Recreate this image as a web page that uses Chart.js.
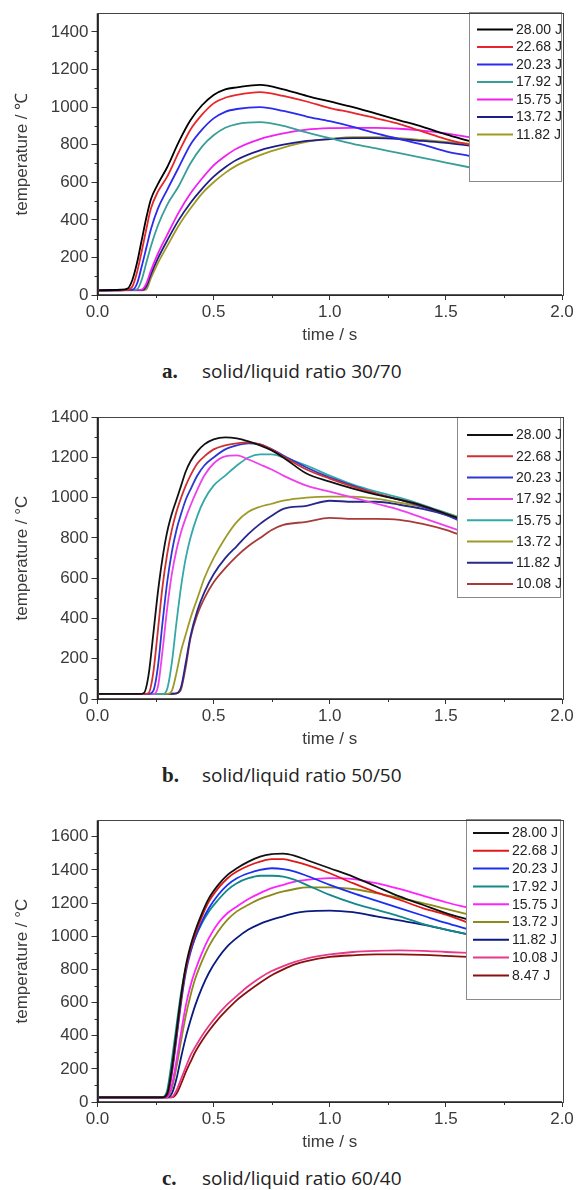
<!DOCTYPE html>
<html><head><meta charset="utf-8">
<script src="https://cdn.jsdelivr.net/npm/chart.js@4.4.1/dist/chart.umd.min.js"></script>
<style>
html,body{margin:0;padding:0;background:#fff;}
#wrap{position:relative;width:578px;height:1190px;overflow:hidden;background:#fff;}
canvas{position:absolute;left:0;}
.cap{position:absolute;left:162px;font-family:'Open Sans',sans-serif;font-size:19px;color:#222;line-height:24px;white-space:nowrap;}
.cap b{font-family:'Liberation Serif',serif;font-size:21px;display:inline-block;width:40px;}
</style></head><body>
<div id="wrap">
<canvas id="ca" width="578" height="350" style="top:0px"></canvas>
<canvas id="cb" width="578" height="350" style="top:404px"></canvas>
<canvas id="cc" width="578" height="350" style="top:807px"></canvas>
<div class="cap" style="top:359px"><b>a.</b>solid/liquid ratio 30/70</div>
<div class="cap" style="top:763px"><b>b.</b>solid/liquid ratio 50/50</div>
<div class="cap" style="top:1166px"><b>c.</b>solid/liquid ratio 60/40</div>
</div>
<script>
// ---------- DATA ----------
const xTickLabels = ['0.0','0.5','1.0','1.5','2.0'];
const yTicksA = ['0','200','400','600','800','1000','1200','1400'];
const yTicksB = ['0','200','400','600','800','1000','1200','1400'];
const yTicksC = ['0','200','400','600','800','1000','1200','1400','1600'];

// Panel a: solid/liquid ratio 30/70
const timeA = [0,0.10,0.13,0.15,0.17,0.19,0.21,0.23,0.26,0.30,0.35,0.40,0.45,0.50,0.55,0.60,0.70,0.80,0.90,1.00,1.10,1.20,1.30,1.40,1.50,1.60];
const labelsA = ['28.00 J','22.68 J','20.23 J','17.92 J','15.75 J','13.72 J','11.82 J'];
const a2800 = [25,28,35,80,170,290,410,510,590,680,815,930,1010,1065,1095,1105,1118,1095,1060,1030,1000,965,930,895,855,820];
const a2268 = [25,27,28,45,120,230,350,460,550,630,760,880,960,1020,1050,1065,1080,1060,1030,995,970,940,910,870,830,800];
const a2023 = [25,26,27,28,60,150,250,350,460,560,680,800,880,940,975,990,1000,980,950,925,895,860,830,800,765,740];
const a1792 = [25,26,27,27,30,80,170,260,370,480,580,700,790,850,890,910,920,900,865,835,805,780,755,730,705,680];
const a1575 = [25,25,26,27,27,28,60,130,220,320,440,540,620,690,740,780,830,860,880,888,890,890,885,875,860,840];
const a1372 = [25,25,26,26,26,26,45,110,195,290,400,490,565,630,680,720,770,800,820,830,835,835,830,820,810,795];
const a1182 = [25,25,25,25,25,25,30,90,170,260,370,460,540,600,650,690,745,785,815,830,840,840,835,825,815,805];

// Panel b: solid/liquid ratio 50/50
const timeB = [0,0.18,0.20,0.22,0.24,0.26,0.28,0.30,0.32,0.34,0.36,0.38,0.40,0.43,0.46,0.50,0.55,0.60,0.65,0.70,0.75,0.80,0.90,1.00,1.10,1.20,1.30,1.40,1.50,1.55];
const labelsB = ['28.00 J','22.68 J','20.23 J','17.92 J','15.75 J','13.72 J','11.82 J','10.08 J'];
const b2800 = [25,25,30,120,320,530,700,830,920,990,1060,1130,1180,1230,1265,1290,1300,1295,1280,1260,1235,1200,1120,1080,1045,1015,990,960,920,900];
const b2268 = [25,25,25,30,130,340,560,720,840,930,1000,1060,1110,1170,1205,1240,1260,1270,1275,1265,1240,1205,1140,1095,1055,1020,990,960,920,900];
const b2023 = [25,25,25,25,40,160,380,580,730,840,920,990,1040,1110,1160,1200,1240,1260,1270,1265,1240,1210,1150,1100,1060,1020,990,955,915,890];
const b1792 = [25,25,25,25,25,60,240,450,620,740,830,900,960,1040,1110,1170,1205,1210,1190,1165,1140,1110,1060,1030,1000,970,940,900,860,840];
const b1575 = [25,25,25,25,25,25,25,50,180,380,560,700,800,910,990,1060,1110,1160,1200,1215,1215,1200,1160,1110,1065,1030,1000,965,925,905];
const b1372 = [25,25,25,25,25,25,25,25,40,130,240,320,400,500,600,700,800,880,930,955,970,985,1000,1005,1005,995,975,955,925,905];
const b1182 = [25,25,25,25,25,25,25,25,26,28,60,180,310,440,530,620,700,760,820,870,910,945,960,985,980,980,965,945,915,895];
const b1008 = [25,25,25,25,25,25,25,25,26,28,50,160,300,420,500,580,650,710,760,800,840,865,880,900,895,895,890,870,840,820];

// Panel c: solid/liquid ratio 60/40
const timeC = [0,0.28,0.30,0.32,0.34,0.36,0.38,0.40,0.42,0.45,0.48,0.52,0.56,0.60,0.65,0.70,0.75,0.80,0.85,0.90,1.00,1.10,1.20,1.30,1.40,1.50,1.60];
const labelsC = ['28.00 J','22.68 J','20.23 J','17.92 J','15.75 J','13.72 J','11.82 J','10.08 J','8.47 J'];
const c2800 = [28,28,50,200,420,640,820,940,1030,1140,1230,1310,1370,1410,1450,1480,1495,1498,1485,1460,1410,1360,1300,1240,1190,1140,1100];
const c2268 = [28,28,40,180,400,620,800,920,1010,1120,1210,1290,1350,1390,1425,1450,1465,1465,1450,1430,1380,1320,1265,1220,1170,1130,1080];
const c2023 = [28,28,40,170,380,600,780,900,990,1090,1170,1250,1310,1350,1380,1400,1410,1405,1390,1365,1310,1260,1215,1170,1125,1080,1040];
const c1792 = [28,30,70,250,460,660,810,910,990,1080,1150,1220,1280,1320,1350,1365,1365,1360,1340,1310,1250,1200,1160,1120,1075,1040,1010];
const c1575 = [28,28,30,100,250,420,580,700,790,900,990,1080,1140,1180,1225,1260,1290,1310,1330,1340,1350,1345,1320,1285,1245,1205,1170];
const c1372 = [28,28,30,80,210,370,520,640,740,850,940,1030,1100,1150,1190,1225,1250,1270,1285,1295,1295,1285,1260,1230,1200,1165,1130];
const c1182 = [28,28,28,50,140,270,390,490,580,690,780,870,940,990,1040,1075,1100,1120,1140,1150,1155,1145,1120,1095,1070,1040,1010];
const c1008 = [28,28,28,30,70,140,210,280,330,400,460,530,590,640,700,750,790,820,845,865,890,905,912,915,912,905,900];
const c847  = [28,28,28,28,50,110,180,240,300,370,430,500,560,615,670,720,765,800,830,850,875,885,890,890,888,882,875];

// ---------- STYLES ----------
const colorsA = ['#000000','#e8262a','#2b2bf0','#3a9e98','#f020f0','#1e1e8a','#a09a20'];
const colorsB = ['#111111','#d03030','#2a38d0','#ee40ee','#34a8a8','#9e9a28','#28288a','#a83a3a'];
const colorsC = ['#111111','#e01818','#1a30f0','#128a8a','#ff22ff','#8c8a18','#0a1a80','#e8388a','#8a1010'];

Chart.defaults.font.family = "'Liberation Sans', Arial, sans-serif";

const frameTicks = {
  id: 'frameTicks',
  afterDraw(chart) {
    const {ctx, chartArea: a, scales: {x, y}} = chart;
    ctx.save();
    ctx.strokeStyle = '#333';
    ctx.lineWidth = 1;
    ctx.beginPath();
    for (let v = 0.25; v < 2; v += 0.5) {
      const px = Math.round(x.getPixelForValue(v)) + 0.5;
      ctx.moveTo(px, a.bottom); ctx.lineTo(px, a.bottom + 3);
    }
    for (let v = 100; v < y.max; v += 200) {
      const py = Math.round(y.getPixelForValue(v)) + 0.5;
      ctx.moveTo(a.left, py); ctx.lineTo(a.left - 3, py);
    }
    ctx.stroke();
    ctx.strokeStyle = '#444';
    ctx.lineWidth = 1;
    ctx.strokeRect(Math.round(a.left) + 0.5, Math.round(a.top) + 0.5, Math.round(a.right - a.left), Math.round(a.bottom - a.top));
    ctx.strokeStyle = '#222';
    ctx.lineWidth = 1.5;
    ctx.beginPath();
    ctx.moveTo(a.left, a.top); ctx.lineTo(a.left, a.bottom); ctx.lineTo(a.right, a.bottom);
    ctx.stroke();
    ctx.restore();
  }
};

const boxLegend = {
  id: 'boxLegend',
  afterDatasetsDraw(chart, args, o) {
    if (!o || !o.box) return;
    const ctx = chart.ctx;
    const [x0, y0, x1, y1] = o.box;
    ctx.save();
    ctx.fillStyle = '#fff';
    ctx.fillRect(x0, y0, x1 - x0, y1 - y0);
    ctx.strokeStyle = '#8a8a8a';
    ctx.lineWidth = 1;
    ctx.strokeRect(x0 + 0.5, y0 + 0.5, x1 - x0 - 1, y1 - y0 - 1);
    ctx.font = "14px 'Liberation Sans', Arial, sans-serif";
    ctx.textBaseline = 'middle';
    ctx.textAlign = 'left';
    chart.data.datasets.forEach((ds, i) => {
      const yy = o.first + i * o.dy;
      ctx.strokeStyle = ds.borderColor;
      ctx.lineWidth = 2;
      ctx.beginPath();
      ctx.moveTo(o.lx0, yy); ctx.lineTo(o.lx1, yy);
      ctx.stroke();
      ctx.fillStyle = '#222';
      ctx.fillText(ds.label, o.tx, yy + 0.5);
    });
    ctx.restore();
  }
};

function makeSeries(times, vals) { return times.map((t, i) => ({x: t, y: vals[i]})); }

function makeChart(id, times, seriesList, labels, colors, yMax, yTickLabels, yTitle, legendOpts) {
  const tickFont = {size: 17};
  return new Chart(document.getElementById(id), {
    type: 'line',
    data: {
      datasets: seriesList.map((s, i) => ({
        label: labels[i],
        data: makeSeries(times, s),
        borderColor: colors[i],
        backgroundColor: colors[i],
        borderWidth: 1.8,
        pointRadius: 0,
        fill: false,
        cubicInterpolationMode: 'monotone'
      }))
    },
    options: {
      responsive: false,
      animation: false,
      devicePixelRatio: 1,
      layout: {padding: {top: 12, right: 16, left: 0, bottom: 0}},
      plugins: {legend: {display: false}, tooltip: {enabled: false}, boxLegend: legendOpts},
      scales: {
        x: {
          type: 'linear', min: 0, max: 2,
          afterFit(s) { s.height = 55; },
          afterBuildTicks(s) { s.ticks = xTickLabels.map(t => ({value: parseFloat(t)})); },
          ticks: {font: tickFont, color: '#3a3a3a', padding: 2, maxRotation: 0,
                  callback: (v) => xTickLabels.find(t => parseFloat(t) === v)},
          grid: {drawOnChartArea: false, drawTicks: true, tickLength: 5, color: '#333'},
          border: {display: false},
          title: {display: true, text: 'time / s', font: {size: 17}, color: '#3a3a3a', padding: {top: 0, bottom: 4}}
        },
        y: {
          type: 'linear', min: 0, max: yMax,
          afterFit(s) { s.width = 97.5; },
          afterBuildTicks(s) { s.ticks = yTickLabels.map(t => ({value: parseFloat(t)})); },
          ticks: {font: tickFont, color: '#3a3a3a', padding: 3,
                  callback: (v) => yTickLabels.find(t => parseFloat(t) === v)},
          grid: {drawOnChartArea: false, drawTicks: true, tickLength: 6, color: '#333'},
          border: {display: false},
          title: {display: true, text: yTitle, font: {size: 17}, color: '#3a3a3a', padding: {top: 12, bottom: 0}}
        }
      }
    },
    plugins: [boxLegend, frameTicks]
  });
}

makeChart('ca', timeA, [a2800,a2268,a2023,a1792,a1575,a1372,a1182], labelsA, colorsA, 1500, yTicksA, 'temperature / \u2103',
  {box: [469, 12, 562, 182], first: 29.5, dy: 17.5, lx0: 477, lx1: 513, tx: 516});
makeChart('cb', timeB, [b2800,b2268,b2023,b1792,b1575,b1372,b1182,b1008], labelsB, colorsB, 1400, yTicksB, 'temperature / \u00b0C',
  {box: [457, 13, 561, 194], first: 31, dy: 21.3, lx0: 467, lx1: 513, tx: 516});
makeChart('cc', timeC, [c2800,c2268,c2023,c1792,c1575,c1372,c1182,c1008,c847], labelsC, colorsC, 1700, yTicksC, 'temperature / \u00b0C',
  {box: [466, 12, 561, 193], first: 26, dy: 17.8, lx0: 473, lx1: 509, tx: 512});
</script>
</body></html>
